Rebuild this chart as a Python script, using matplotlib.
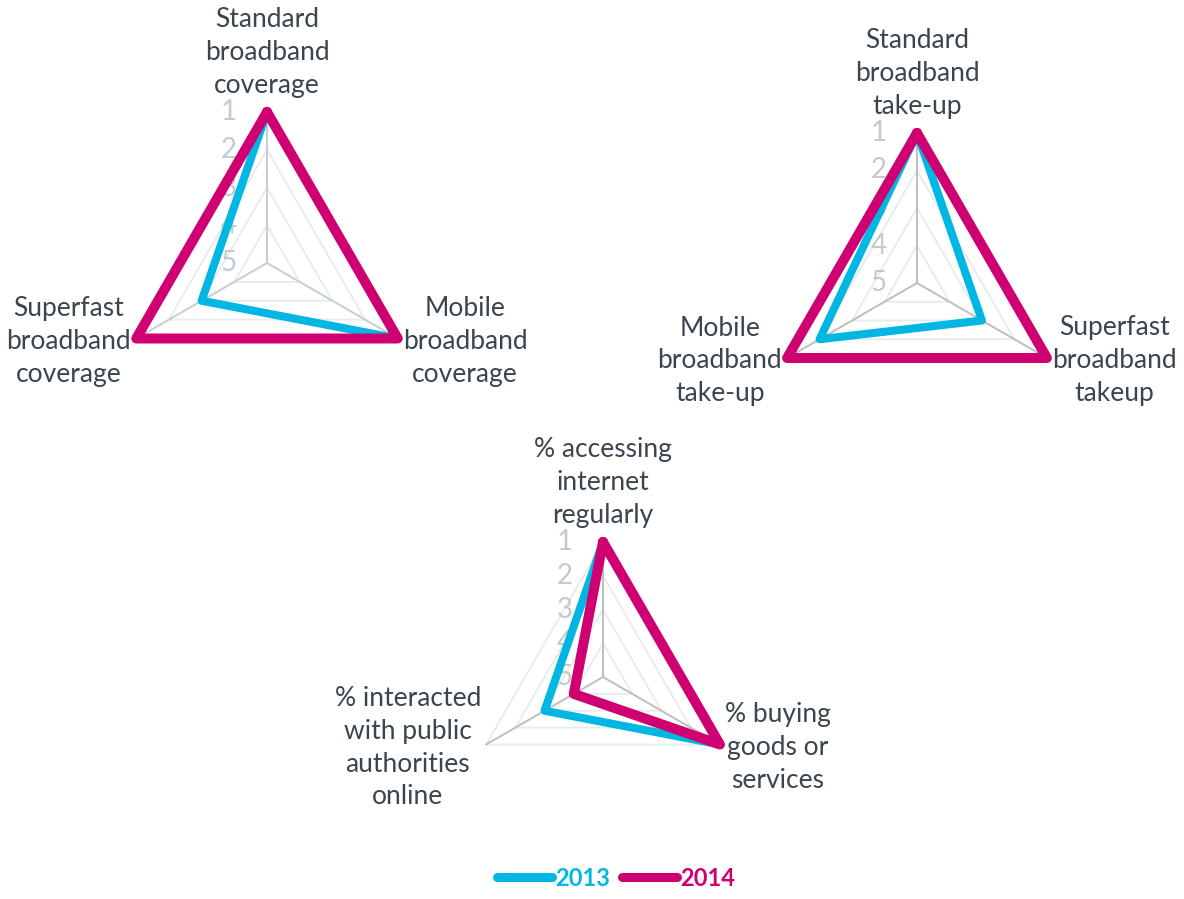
import numpy as np
import matplotlib
matplotlib.use('Agg')
import matplotlib.pyplot as plt
from matplotlib.lines import Line2D

plt.rcParams['font.family'] = ['Lato', 'DejaVu Sans']

# chart 1: coverage
labels_cov = ['Standard\nbroadband\ncoverage', 'Mobile\nbroadband\ncoverage', 'Superfast\nbroadband\ncoverage']
cov_2013 = [1, 1, 3]
cov_2014 = [1, 1, 1]

# chart 2: take-up
labels_take = ['Standard\nbroadband\ntake-up', 'Superfast\nbroadband\ntakeup', 'Mobile\nbroadband\ntake-up']
take_2013 = [1, 3, 2]
take_2014 = [1, 1, 1]

# chart 3: usage
labels_use = ['% accessing\ninternet\nregularly', '% buying\ngoods or\nservices',
              '% interacted\nwith public\nauthorities\nonline']
use_2013 = [1, 1, 3]
use_2014 = [1, 1, 4]

rank_ticks = [1, 2, 3, 4, 5]
years = ['2013', '2014']

c2013 = '#00B7E3'
c2014 = '#CE0072'
text_col = '#3A4550'
FS = 19

W, H = 1184, 899
fig = plt.figure(figsize=(W / 100, H / 100), dpi=100)


def radar(cx, cy, R, labels, v13, v14, tick_col, spoke_col):
    ax = fig.add_axes([(cx - R) / W, (H - cy - R) / H, 2 * R / W, 2 * R / H], projection='polar')
    ax.set_theta_zero_location('N')
    ax.set_theta_direction(-1)
    ax.set_ylim(5, 1)
    ax.grid(False)
    ax.set_xticks([])
    ax.set_yticks([])
    ax.spines['polar'].set_visible(False)
    ax.patch.set_visible(False)

    n = len(labels)
    th = np.arange(n) * 2 * np.pi / n
    thc = np.append(th, th[0])

    # grid triangles
    for lvl in rank_ticks[:-1]:
        ax.plot(thc, [lvl] * (n + 1), color='#E6EBEE', lw=1.3, clip_on=False, zorder=1)
    # spokes
    for t in th:
        ax.plot([t, t], [5, 1], color=spoke_col, lw=1.4, clip_on=False, zorder=2)

    for vals, col, lw in [(v13, c2013, 5.8), (v14, c2014, 7.2)]:
        ax.plot(thc, list(vals) + [vals[0]], color=col, lw=lw, solid_joinstyle='round',
                solid_capstyle='round', clip_on=False, zorder=3)

    # rank tick labels next to the top spoke
    for r in rank_ticks:
        ax.annotate(str(r), xy=(0, r), xytext=(-30, 0), textcoords='offset pixels',
                    ha='right', va='center', fontsize=FS + 1, color=tick_col,
                    annotation_clip=False, zorder=2.5)

    # category labels
    kw = dict(textcoords='offset pixels', fontsize=FS, color=text_col, linespacing=1.4,
              multialignment='center', annotation_clip=False)
    for t, lab in zip(th, labels):
        if np.isclose(t, 0):
            ax.annotate(lab, xy=(t, 1), xytext=(0, 14), ha='center', va='bottom', **kw)
        elif t < np.pi:
            ax.annotate(lab, xy=(t, 1), xytext=(5, -3), ha='left', va='center', **kw)
        else:
            ax.annotate(lab, xy=(t, 1), xytext=(-5, -3), ha='right', va='center', **kw)
    return ax


radar(267, 263, 151, labels_cov, cov_2013, cov_2014, '#BECCD4', '#C5CED3')
radar(917, 283, 150, labels_take, take_2013, take_2014, '#C8C8C8', '#BEBEBE')
radar(603, 677, 135, labels_use, use_2013, use_2014, '#C8C8C8', '#BEBEBE')

handles = [Line2D([0], [0], color=c2013, lw=6.5, solid_capstyle='round'),
           Line2D([0], [0], color=c2014, lw=6.5, solid_capstyle='round')]
leg = fig.legend(handles, years, loc='center', bbox_to_anchor=(616 / W, 1 - 878 / H), ncol=2,
                 frameon=False, handlelength=2.3, handletextpad=0.12, columnspacing=0.55,
                 prop={'size': 17, 'weight': 'bold'})
for txt, col in zip(leg.get_texts(), [c2013, c2014]):
    txt.set_color(col)

fig.savefig('out.png', dpi=100)
